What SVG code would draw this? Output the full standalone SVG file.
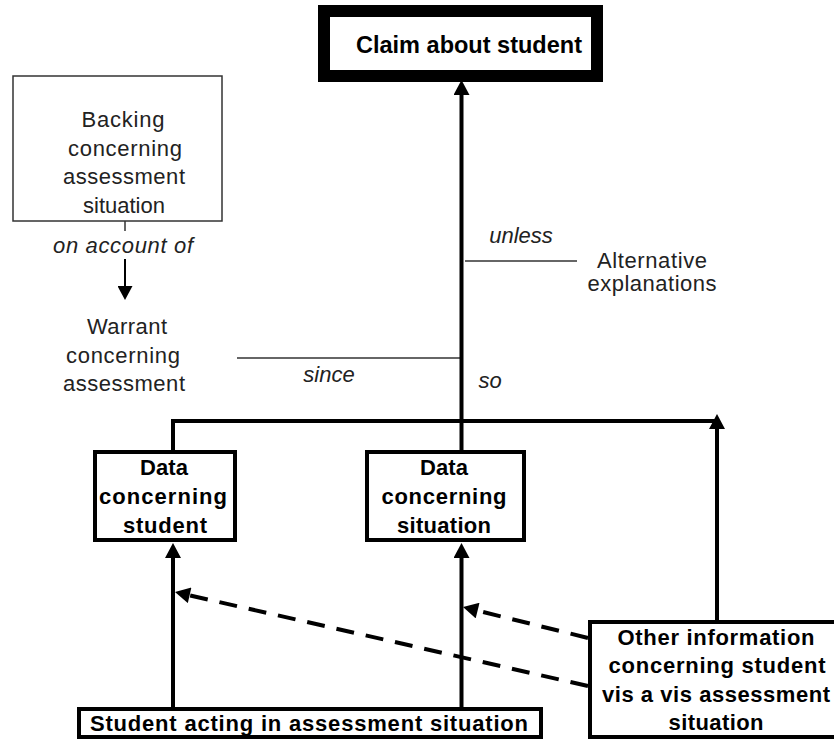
<svg xmlns="http://www.w3.org/2000/svg" width="834" height="740" viewBox="0 0 834 740">
<style>
.reg{font-family:"Liberation Sans",Arial,sans-serif;font-size:22px;fill:#222;text-anchor:middle}
.it{font-style:italic}
.b{font-family:"Liberation Sans",Arial,sans-serif;font-size:22px;font-weight:bold;fill:#000;text-anchor:middle}
.box{fill:#fff;stroke:#000;stroke-width:4}
.thin{fill:none;stroke:#333;stroke-width:1.5}
.thick{fill:none;stroke:#000;stroke-width:4}
.dash{fill:none;stroke:#000;stroke-width:4;stroke-dasharray:18 12}
</style>
<defs>
<marker id="ah" markerUnits="userSpaceOnUse" markerWidth="16" markerHeight="16" viewBox="0 0 15 16" refX="0" refY="8" orient="auto"><path d="M0,0 L15,8 L0,16 z" fill="#000"/></marker>
<marker id="ahs" markerUnits="userSpaceOnUse" markerWidth="15" markerHeight="15" viewBox="0 0 14 15" refX="0" refY="7.5" orient="auto"><path d="M0,0 L14,7.5 L0,15 z" fill="#000"/></marker>
</defs>
<rect width="834" height="740" fill="#fff"/>
<g id="connectors">
<line class="thin" x1="125" y1="221" x2="125" y2="231"/>
<line x1="125" y1="259" x2="125" y2="286" stroke="#000" stroke-width="2" marker-end="url(#ahs)"/>
<line class="thin" x1="237" y1="358" x2="460" y2="358"/>
<line class="thin" x1="465" y1="261" x2="577" y2="261"/>
<line class="thick" x1="461.5" y1="452" x2="461.5" y2="95" marker-end="url(#ah)"/>
<polyline class="thick" points="173,452 173,421 717,421"/>
<line class="thick" x1="717" y1="622" x2="717" y2="429" marker-end="url(#ah)"/>
<line class="thick" x1="173" y1="709" x2="173" y2="558" marker-end="url(#ah)"/>
<line class="thick" x1="461.5" y1="709" x2="461.5" y2="558" marker-end="url(#ah)"/>
<line class="dash" x1="588" y1="638" x2="477.6" y2="610.6" marker-end="url(#ah)"/>
<line class="dash" x1="588" y1="686" x2="189.6" y2="595.3" marker-end="url(#ah)"/>
</g>
<g id="labels">
<text class="reg it" x="123" y="253" textLength="140" lengthAdjust="spacing">on account of</text>
<text class="reg it" x="329" y="382">since</text>
<text class="reg it" x="490" y="388">so</text>
<text class="reg it" x="521" y="243">unless</text>
</g>
<g id="claim">
<rect x="324" y="11" width="273" height="65" fill="#fff" stroke="#000" stroke-width="12"/>
<text class="b" x="469" y="53" style="font-size:23px" textLength="226" lengthAdjust="spacingAndGlyphs">Claim about student</text>
</g>
<g id="backing">
<rect x="13" y="76" width="209" height="145" fill="#fff" stroke="#333" stroke-width="1.5"/>
<text class="reg" x="123" y="127" textLength="83" lengthAdjust="spacing">Backing</text>
<text class="reg" x="125" y="155.5" textLength="114" lengthAdjust="spacing">concerning</text>
<text class="reg" x="124" y="184" textLength="122" lengthAdjust="spacing">assessment</text>
<text class="reg" x="124" y="212.5" textLength="82" lengthAdjust="spacing">situation</text>
</g>
<g id="warrant">
<text class="reg" x="127" y="334" textLength="80" lengthAdjust="spacing">Warrant</text>
<text class="reg" x="123" y="362.5" textLength="114" lengthAdjust="spacing">concerning</text>
<text class="reg" x="124" y="391" textLength="122" lengthAdjust="spacing">assessment</text>
</g>
<g id="alternative">
<text class="reg" x="652" y="268" textLength="110" lengthAdjust="spacing">Alternative</text>
<text class="reg" x="652" y="291" textLength="129" lengthAdjust="spacing">explanations</text>
</g>
<g id="data-student">
<rect class="box" x="95" y="452" width="140" height="88"/>
<text class="b" x="164" y="475" textLength="48" lengthAdjust="spacing">Data</text>
<text class="b" x="163" y="504" textLength="128" lengthAdjust="spacing">concerning</text>
<text class="b" x="165" y="533" textLength="84" lengthAdjust="spacing">student</text>
</g>
<g id="data-situation">
<rect class="box" x="367" y="452" width="157" height="88"/>
<text class="b" x="444" y="475" textLength="48" lengthAdjust="spacing">Data</text>
<text class="b" x="444" y="504" textLength="125" lengthAdjust="spacing">concerning</text>
<text class="b" x="444" y="533" textLength="94" lengthAdjust="spacing">situation</text>
</g>
<g id="student-acting">
<rect class="box" x="79" y="709" width="462" height="28"/>
<text class="b" x="309" y="731" textLength="438" lengthAdjust="spacing">Student acting in assessment situation</text>
</g>
<g id="other-info">
<rect class="box" x="590" y="622" width="260" height="115"/>
<text class="b" x="716" y="645" textLength="197" lengthAdjust="spacing">Other information</text>
<text class="b" x="717" y="673" textLength="217" lengthAdjust="spacing">concerning student</text>
<text class="b" x="716" y="702" textLength="228" lengthAdjust="spacing">vis a vis assessment</text>
<text class="b" x="716" y="730" textLength="95" lengthAdjust="spacing">situation</text>
</g>
</svg>
